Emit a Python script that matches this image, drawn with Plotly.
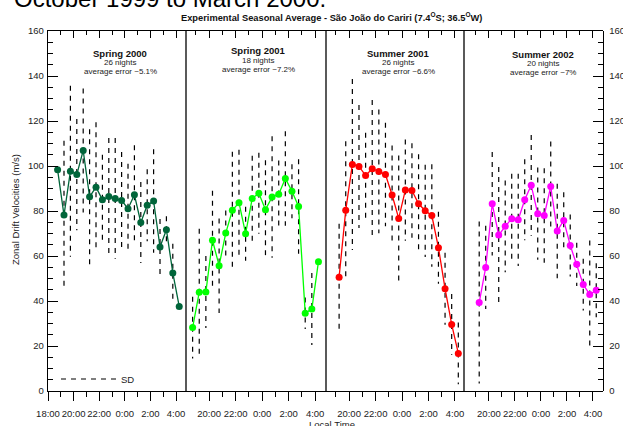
import plotly.graph_objects as go

# ---------------- data ----------------
hours_20 = [18.75, 19.25, 19.75, 20.25, 20.75, 21.25, 21.75, 22.25, 22.75, 23.25,
            23.75, 24.25, 24.75, 25.25, 25.75, 26.25, 26.75, 27.25, 27.75, 28.25]
hours_19 = [19.25, 19.75, 20.25, 20.75, 21.25, 21.75, 22.25, 22.75, 23.25, 23.75,
            24.25, 24.75, 25.25, 25.75, 26.25, 26.75, 27.25, 27.75, 28.25]

spring2000_mean = [98.3, 78.2, 97.7, 96.2, 106.9, 86.3, 90.6, 85.0, 86.5, 85.6,
                   84.7, 81.0, 87.2, 74.9, 82.6, 84.4, 64.0, 71.7, 52.5, 37.6]
spring2000_sd = [0, 33, 38, 24.7, 27.6, 30, 28.8, 20, 26, 26.8,
                 21.5, 20, 22, 18, 16, 23, 12.5, 6, 13, 0]

spring2001_mean = [28.2, 43.9, 44.0, 67.0, 55.7, 70.2, 80.3, 83.7, 69.9, 85.6,
                   87.9, 80.6, 86.2, 87.4, 94.5, 88.8, 82.0, 34.6, 36.4, 57.5]
spring2001_sd = [13.7, 28.2, 16, 22, 21, 10, 26, 23.5, 12, 19,
                 18, 22, 27, 15, 21, 12, 21, 7, 16, 0]

summer2001_mean = [50.6, 80.3, 100.7, 99.8, 95.8, 98.8, 97.6, 96.2, 87.1, 76.7,
                   89.3, 89.1, 83.2, 80.1, 78.0, 63.7, 45.5, 29.6, 16.7]
summer2001_sd = [23.7, 30.7, 38, 27.3, 19, 30.5, 27.5, 23, 22, 28,
                 22.5, 21, 22, 20.5, 22.8, 16, 16, 13.5, 13.7]

summer2002_mean = [39.3, 54.9, 83.2, 69.3, 73.2, 76.6, 76.1, 85.0, 91.4, 78.8,
                   78.0, 90.9, 71.1, 75.8, 64.7, 56.3, 47.3, 42.9, 44.8]
summer2002_sd = [36, 18.5, 23, 30.3, 20.4, 20, 20.5, 18, 22.4, 20.5,
                 21, 20, 21, 12.5, 13.8, 9.6, 11.5, 24, 12]

season_names = ["Spring 2000", "Spring 2001", "Summer 2001", "Summer 2002"]
season_nights = ["26 nights", "18 nights", "26 nights", "20 nights"]
season_errors = ["average error ~5.1%", "average error ~7.2%",
                 "average error ~6.6%", "average error ~7%"]
season_colors = ["#00653A", "#00FF00", "#FF0000", "#FF00FF"]

major_hours = [18, 20, 22, 24, 26, 28]
major_labels = ["18:00", "20:00", "22:00", "0:00", "2:00", "4:00"]
minor_hours = [19, 21, 23, 25, 27]

y_major = [0, 20, 40, 60, 80, 100, 120, 140, 160]

# ---------------- layout geometry ----------------
FONT = "Arial, Liberation Sans, sans-serif"
W, H = 623, 426
L, R, T, B = 48, 20, 31, 35
PW = W - L - R
PH = H - T - B


def fx(px):
    return (px - L) / PW


def fy(py):
    return (H - B - py) / PH


panel_edges = [48, 186, 326, 464, 603]
panel_ranges = [[18.0, 28.78], [18.25, 28.82], [18.26, 28.68], [18.08, 28.77]]

series = [
    (hours_20, spring2000_mean, spring2000_sd),
    (hours_20, spring2001_mean, spring2001_sd),
    (hours_19, summer2001_mean, summer2001_sd),
    (hours_19, summer2002_mean, summer2002_sd),
]

fig = go.Figure()

for i, (tt, mm, ss) in enumerate(series):
    xa = "x" if i == 0 else f"x{i + 1}"
    bx, by = [], []
    for t, m, s in zip(tt, mm, ss):
        if s > 0:
            bx += [t, t, None]
            by += [m + s, m - s, None]
    fig.add_trace(go.Scatter(
        x=bx, y=by, xaxis=xa, yaxis="y", mode="lines",
        line=dict(color="black", width=1.2, dash="5px,5px"),
        name="SD", showlegend=(i == 0), hoverinfo="skip"))
    fig.add_trace(go.Scatter(
        x=tt, y=mm, xaxis=xa, yaxis="y", mode="lines+markers",
        line=dict(color=season_colors[i], width=1.3),
        marker=dict(color=season_colors[i], size=7),
        showlegend=False, name=season_names[i]))
    # empty trace on the top (mirror) axis
    fig.add_trace(go.Scatter(x=[], y=[], xaxis=f"x{i + 5}", yaxis="y",
                             showlegend=False, hoverinfo="skip"))

fig.add_trace(go.Scatter(x=[], y=[], xaxis="x4", yaxis="y2",
                         showlegend=False, hoverinfo="skip"))

layout = dict(
    template="none",
    width=W, height=H, autosize=False,
    margin=dict(l=L, r=R, t=T, b=B, pad=0, autoexpand=False),
    paper_bgcolor="white", plot_bgcolor="white",
    font=dict(family=FONT, size=9.5, color="black"),
    showlegend=True,
    legend=dict(x=fx(56), y=fy(379), xanchor="left", yanchor="middle",
                bgcolor="rgba(0,0,0,0)", borderwidth=0,
                font=dict(family=FONT, size=9.5, color="#222"),
                itemwidth=55, tracegroupgap=0),
)

for i in range(4):
    dom = [fx(panel_edges[i]), fx(panel_edges[i + 1])]
    key = "xaxis" if i == 0 else f"xaxis{i + 1}"
    layout[key] = dict(
        domain=dom, range=panel_ranges[i], anchor="y", automargin=False,
        tickmode="array", tickvals=major_hours, ticktext=major_labels,
        tickangle=0,
        ticks="outside", ticklen=9, tickwidth=1, tickcolor="black",
        minor=dict(tickmode="array", tickvals=minor_hours, ticks="outside",
                   ticklen=5, tickwidth=1, tickcolor="black"),
        showline=True, linecolor="black", linewidth=1.3,
        showgrid=False, zeroline=False, fixedrange=True,
        tickfont=dict(family=FONT, size=9.5, color="#222"),
        ticklabelstandoff=4,
    )
    base = "x" if i == 0 else f"x{i + 1}"
    layout[f"xaxis{i + 5}"] = dict(
        overlaying=base, side="top", anchor="y", range=panel_ranges[i],
        automargin=False,
        tickmode="array", tickvals=major_hours, showticklabels=False,
        ticks="inside", ticklen=7, tickwidth=1, tickcolor="black",
        minor=dict(tickmode="array", tickvals=minor_hours, ticks="inside",
                   ticklen=4, tickwidth=1, tickcolor="black"),
        showline=True, linecolor="black", linewidth=1.3,
        showgrid=False, zeroline=False, fixedrange=True,
    )

yax_common = dict(
    range=[0, 160], tickmode="array", tickvals=y_major, automargin=False,
    ticks="inside", ticklen=10, tickwidth=1, tickcolor="black",
    minor=dict(tickmode="linear", tick0=0, dtick=5, ticks="inside",
               ticklen=5, tickwidth=1, tickcolor="black"),
    showline=True, linecolor="black", linewidth=1.3,
    showgrid=False, zeroline=False, fixedrange=True,
    tickfont=dict(family=FONT, size=9.5, color="#222"),
)
layout["yaxis"] = dict(domain=[0, 1], anchor="x", side="left",
                       ticklabelstandoff=1, **yax_common)
layout["yaxis2"] = dict(overlaying="y", anchor="free", position=1,
                        side="right", ticklabelstandoff=3, **yax_common)

shapes = []
for e in panel_edges[1:4]:
    shapes.append(dict(type="line", xref="paper", yref="paper",
                       x0=fx(e), x1=fx(e), y0=0, y1=1,
                       line=dict(color="black", width=1.3)))
layout["shapes"] = shapes

ann = []
# clipped page text above the chart
ann.append(dict(text="October 1999 to March 2000.", xref="paper", yref="paper",
                x=fx(12), y=fy(14), xanchor="left", yanchor="bottom",
                showarrow=False, font=dict(family=FONT, size=24, color="black")))
ann.append(dict(
    text="<b>Experimental Seasonal Average - São João do Cariri (7.4<sup>O</sup>S; 36.5<sup>O</sup>W)</b>",
    xref="paper", yref="paper", x=fx(331), y=fy(17), xanchor="center",
    yanchor="middle", showarrow=False,
    font=dict(family=FONT, size=9.3, color="#111")))
ann.append(dict(text="Zonal Drift Velocities (m/s)", xref="paper", yref="paper",
                x=fx(15), y=fy(210), xanchor="center", yanchor="middle",
                textangle=-90, showarrow=False,
                font=dict(family=FONT, size=9.5, color="#222")))
ann.append(dict(text="Local Time", xref="paper", yref="paper",
                x=fx(332), y=fy(416.5), xanchor="center", yanchor="top",
                showarrow=False, font=dict(family=FONT, size=9.5, color="#222")))

centers = [120, 258, 398, 543]
rows = [(53, 62.5, 71.5), (50.7, 60.3, 69.7), (53, 62.7, 71.5), (54.5, 63.7, 72.5)]
for i in range(4):
    ann.append(dict(text=f"<b>{season_names[i]}</b>", xref="paper", yref="paper",
                    x=fx(centers[i]), y=fy(rows[i][0]), xanchor="center",
                    yanchor="middle", showarrow=False,
                    font=dict(family=FONT, size=9.5, color="#111")))
    ann.append(dict(text=season_nights[i], xref="paper", yref="paper",
                    x=fx(centers[i]), y=fy(rows[i][1]), xanchor="center",
                    yanchor="middle", showarrow=False,
                    font=dict(family=FONT, size=8, color="#222")))
    ann.append(dict(text=season_errors[i], xref="paper", yref="paper",
                    x=fx(centers[i]), y=fy(rows[i][2]), xanchor="center",
                    yanchor="middle", showarrow=False,
                    font=dict(family=FONT, size=8, color="#222")))
layout["annotations"] = ann

fig.update_layout(**layout)
fig.write_html("out.html", config={"displayModeBar": False, "staticPlot": True})
